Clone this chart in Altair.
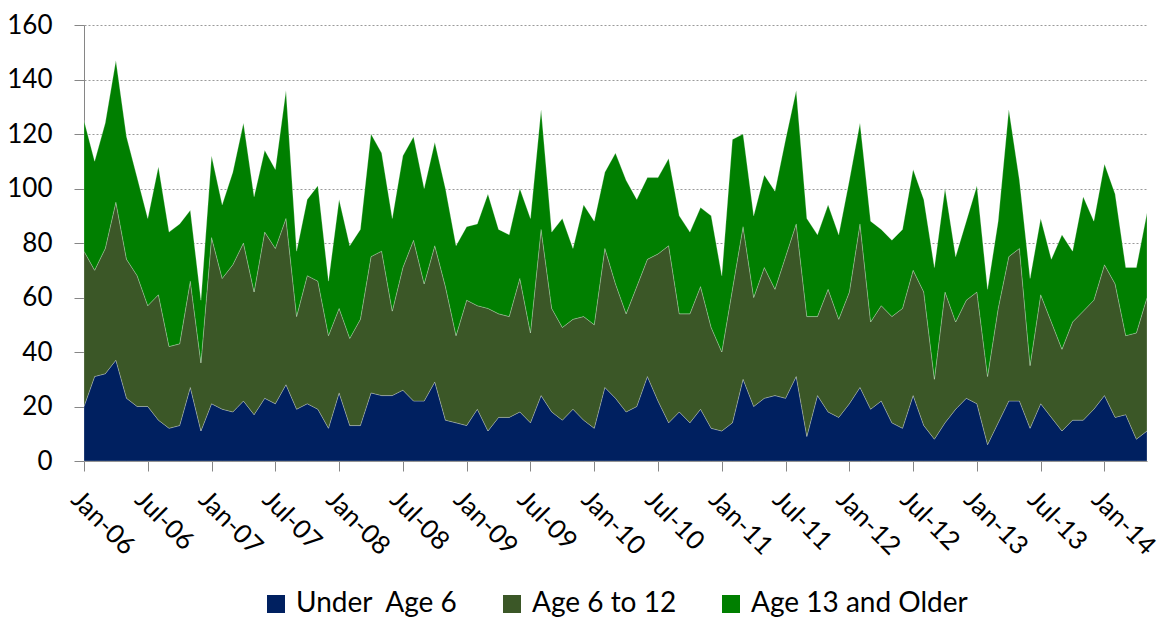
import altair as alt
import pandas as pd

# ---- data (monthly, Jan-06 .. May-14) ----
month_names = ["Jan", "Feb", "Mar", "Apr", "May", "Jun",
               "Jul", "Aug", "Sep", "Oct", "Nov", "Dec"]
years = ["06", "07", "08", "09", "10", "11", "12", "13", "14"]
months = [f"{m}-{y}" for y in years for m in month_names][:101]

tick_labels = ["Jan-06", "Jul-06", "Jan-07", "Jul-07", "Jan-08", "Jul-08",
               "Jan-09", "Jul-09", "Jan-10", "Jul-10", "Jan-11", "Jul-11",
               "Jan-12", "Jul-12", "Jan-13", "Jul-13", "Jan-14"]

series_names = ["Under\u00a0 Age 6", "Age 6 to 12", "Age 13 and Older"]
series_colors = ["#002060", "#3b5727", "#007f00"]

under6 = [20, 31, 32, 37, 23, 20, 20, 15, 12, 13,
          27, 11, 21, 19, 18, 22, 17, 23, 21, 28,
          19, 21, 19, 12, 25, 13, 13, 25, 24, 24,
          26, 22, 22, 29, 15, 14, 13, 19, 11, 16,
          16, 18, 14, 24, 18, 15, 19, 15, 12, 27,
          23, 18, 20, 31, 22, 14, 18, 14, 19, 12,
          11, 14, 30, 20, 23, 24, 23, 31, 9, 24,
          18, 16, 21, 27, 19, 22, 14, 12, 24, 13,
          8, 14, 19, 23, 21, 6, 14, 22, 22, 12,
          21, 16, 11, 15, 15, 19, 24, 16, 17, 8,
          11]

age6_12 = [57, 39, 46, 58, 51, 48, 37, 46, 30, 30,
           39, 25, 61, 48, 54, 58, 45, 61, 57, 61,
           34, 47, 47, 34, 31, 32, 39, 50, 53, 31,
           45, 59, 43, 50, 49, 32, 46, 38, 45, 38,
           37, 49, 33, 61, 38, 34, 33, 38, 38, 51,
           42, 36, 44, 43, 54, 65, 36, 40, 45, 37,
           29, 49, 56, 40, 48, 39, 52, 56, 44, 29,
           45, 36, 41, 60, 32, 35, 39, 44, 46, 49,
           22, 48, 32, 36, 41, 25, 42, 53, 56, 23,
           40, 35, 30, 36, 40, 40, 48, 49, 29, 39,
           49]

age13_up = [48, 40, 46, 52, 45, 36, 32, 47, 42, 44,
            26, 23, 30, 27, 34, 44, 35, 30, 29, 47,
            24, 28, 35, 20, 40, 34, 33, 45, 36, 34,
            41, 38, 35, 38, 36, 33, 27, 30, 42, 31,
            30, 33, 42, 44, 28, 40, 26, 41, 38, 28,
            48, 49, 32, 30, 28, 32, 36, 30, 29, 41,
            28, 55, 34, 30, 34, 36, 43, 49, 36, 30,
            31, 31, 41, 37, 37, 28, 28, 29, 37, 34,
            41, 38, 24, 29, 39, 32, 32, 54, 25, 32,
            28, 23, 42, 26, 42, 29, 37, 33, 25, 24,
            31]

rows = []
for k, (name, vals) in enumerate(zip(series_names, [under6, age6_12, age13_up])):
    for m, v in zip(months, vals):
        rows.append({"month": m, "series": name, "value": v, "order": k})
df = pd.DataFrame(rows)

FONT = "Lato"
AXIS_GRAY = "#868686"

chart = (
    alt.Chart(df)
    .mark_area(stroke="#ffffff", strokeOpacity=0.3, strokeWidth=0.8)
    .encode(
        x=alt.X(
            "month:O",
            sort=months,
            scale=alt.Scale(type="point", padding=0, domain=months),
            axis=alt.Axis(
                values=tick_labels,
                title=None,
                labelAngle=45,
                labelAlign="left",
                labelBaseline="top",
                labelPadding=15,
                labelFontSize=26,
                labelFont=FONT,
                labelColor="black",
                labelOverlap=False,
                labelBound=False,
                labelFlush=False,
                tickSize=10,
                tickColor=AXIS_GRAY,
                domainColor=AXIS_GRAY,
                grid=False,
            ),
        ),
        y=alt.Y(
            "value:Q",
            stack="zero",
            scale=alt.Scale(domain=[0, 160], nice=False),
            axis=alt.Axis(
                values=[0, 20, 40, 60, 80, 100, 120, 140, 160],
                title=None,
                labelFontSize=26,
                labelFont=FONT,
                labelColor="black",
                labelPadding=22,
                tickSize=10,
                tickColor=AXIS_GRAY,
                domainColor=AXIS_GRAY,
                grid=True,
                gridColor="#9a9a9a",
                gridDash=[2, 2],
                gridWidth=1,
            ),
        ),
        color=alt.Color(
            "series:N",
            scale=alt.Scale(domain=series_names, range=series_colors),
            legend=alt.Legend(
                title=None,
                orient="none",
                legendX=178,
                legendY=565,
                direction="horizontal",
                symbolType="square",
                symbolSize=324,
                symbolStrokeWidth=0,
                labelFontSize=28,
                labelFont=FONT,
                labelColor="black",
                labelOffset=6,
                columnPadding=40,
                padding=0,
                labelLimit=400,
            ),
        ),
        order=alt.Order("order:Q", sort="ascending"),
    )
    .properties(
        width=1063,
        height=436,
        autosize=alt.AutoSizeParams(type="none"),
        padding={"left": 76, "top": 17, "right": 20, "bottom": 161},
    )
    .configure_view(stroke=None)
)

chart.save("out.html", embed_options={"renderer": "svg", "actions": False})
